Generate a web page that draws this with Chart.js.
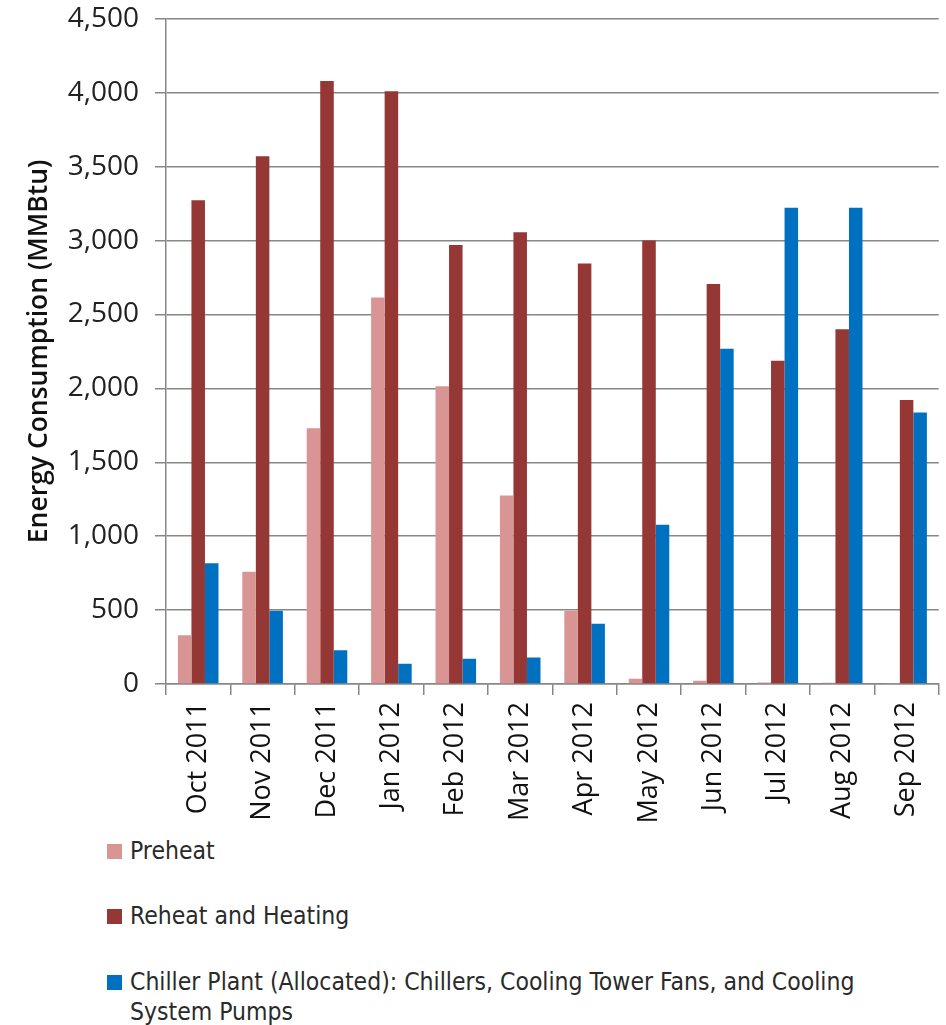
<!DOCTYPE html>
<html>
<head>
<meta charset="utf-8">
<script src="https://cdn.jsdelivr.net/npm/chart.js@4.4.1/dist/chart.umd.min.js"></script>
<style>
    body { margin: 0; background: #fff; }
    #wrap { position: relative; width: 946px; height: 1025px; overflow: hidden; }
    #chartBox { position: absolute; left: 0; top: 0; width: 946px; height: 830px; }
    .leyenda { position: absolute; left: 107px; font-family: "Liberation Sans Narrow", "DejaVu Sans Condensed", sans-serif; font-size: 24.5px; color: #2a2a2a; line-height: 30px; }
    .leyenda-item { position: absolute; white-space: nowrap; padding-left: 23px; }
    .leyenda-dot { position: absolute; left: 0; top: 8px; width: 15px; height: 15px; }
</style>
</head>
<body>
<div id="wrap">
    <div id="chartBox"><canvas id="grafico"></canvas></div>
    <div class="leyenda" id="leyenda"></div>
</div>
<script>
const meses = ['Oct 2011', 'Nov 2011', 'Dec 2011', 'Jan 2012', 'Feb 2012', 'Mar 2012',
    'Apr 2012', 'May 2012', 'Jun 2012', 'Jul 2012', 'Aug 2012', 'Sep 2012'];

const preheat = [330, 760, 1730, 2615, 2015, 1275, 496, 35, 22, 10, 8, 6];
const reheat = [3273, 3570, 4080, 4010, 2970, 3056, 2845, 3000, 2706, 2186, 2400, 1922];
const chiller = [817, 496, 228, 137, 171, 180, 408, 1078, 2268, 3222, 3222, 1836];

const nombresSeries = [
    'Preheat',
    'Reheat and Heating',
    'Chiller Plant (Allocated): Chillers, Cooling Tower Fans, and Cooling System Pumps'
];
const coloresSeries = ['#d99594', '#953735', '#0070c0'];

const colorGrid = '#878787';
const fuenteEjes = 'Open Sans';

function crearDataset(label, data, color) {
    return {
        label,
        data,
        backgroundColor: color,
        borderWidth: 0,
        barPercentage: 1,
        categoryPercentage: 0.63
    };
}

new Chart(document.getElementById('grafico'), {
    type: 'bar',
    data: {
        labels: meses,
        datasets: [
            crearDataset(nombresSeries[0], preheat, coloresSeries[0]),
            crearDataset(nombresSeries[1], reheat, coloresSeries[1]),
            crearDataset(nombresSeries[2], chiller, coloresSeries[2])
        ]
    },
    options: {
        responsive: true,
        maintainAspectRatio: false,
        animation: false,
        layout: { padding: 0 },
        plugins: {
            legend: { display: false },
            tooltip: { enabled: false }
        },
        scales: {
            x: {
                grid: {
                    offset: true,
                    drawOnChartArea: false,
                    drawTicks: true,
                    tickLength: 11,
                    color: colorGrid,
                    lineWidth: 1.5
                },
                border: { color: colorGrid, width: 1.5 },
                ticks: {
                    minRotation: 90,
                    maxRotation: 90,
                    padding: 7,
                    color: '#111',
                    font: { family: fuenteEjes, size: 27, weight: '500' }
                },
                afterFit(scale) { scale.height = 146; }
            },
            y: {
                min: 0,
                max: 4500,
                ticks: {
                    stepSize: 500,
                    padding: 16,
                    color: '#222',
                    // lineHeight bajo: sólo reduce el margen superior que reserva Chart.js
                    font: { family: fuenteEjes, size: 28, lineHeight: 0.2 },
                    callback: (v) => v.toLocaleString('en-US')
                },
                grid: {
                    color: colorGrid,
                    lineWidth: 1.5,
                    tickLength: 11
                },
                border: { color: colorGrid, width: 1.5 },
                title: {
                    display: true,
                    text: 'Energy Consumption (MMBtu)',
                    color: '#111',
                    font: { family: fuenteEjes, size: 26.5, weight: '600' },
                    padding: { top: 24, bottom: 0 }
                },
                afterFit(scale) { scale.width = 166; }
            }
        }
    }
});

const leyenda = document.getElementById('leyenda');
const posicionesLeyenda = [836, 901, 967];
nombresSeries.forEach((nombre, idx) => {
    const item = document.createElement('div');
    item.className = 'leyenda-item';
    item.style.top = posicionesLeyenda[idx] + 'px';
    const texto = idx === 2
        ? 'Chiller Plant (Allocated): Chillers, Cooling Tower Fans, and Cooling<br>System Pumps'
        : nombre;
    item.innerHTML = `<span class="leyenda-dot" style="background:${coloresSeries[idx]}"></span>${texto}`;
    leyenda.appendChild(item);
});
</script>
</body>
</html>
